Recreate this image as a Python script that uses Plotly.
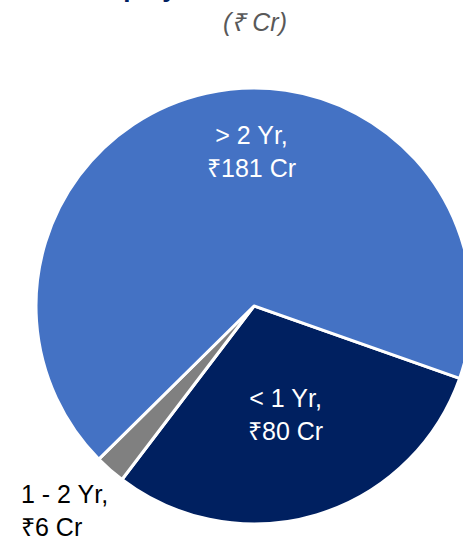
import plotly.graph_objects as go

labels = ["< 1 Yr", "1 - 2 Yr", "> 2 Yr"]
values = [80, 6, 181]
colors = ["#002060", "#808080", "#4472C4"]
title_text = "Deployment Profile"
subtitle_text = "(₹ Cr)"

W, H = 490, 541
cx, cy, r = 254, 306, 218

def px(x):
    return x / W

def py(y):
    return 1 - y / H

fig = go.Figure(go.Pie(
    labels=labels,
    values=values,
    sort=False,
    direction="clockwise",
    rotation=109.4,
    marker=dict(colors=colors, line=dict(color="white", width=3)),
    textinfo="none",
    hoverinfo="label+value",
    domain=dict(x=[px(cx - r), px(cx + r)], y=[py(cy + r), py(cy - r)]),
    showlegend=False,
))

label_pos = {"> 2 Yr": (251, 151, "center", "white"),
             "< 1 Yr": (285, 414, "center", "white"),
             "1 - 2 Yr": (19, 510, "left", "black")}
annotations = []
for lab, val in zip(labels, values):
    x, y, al, col = label_pos[lab]
    annotations.append(dict(
        x=px(x), y=py(y), xref="paper", yref="paper",
        xanchor=al, yanchor="middle", align=al, showarrow=False,
        text=f"{lab},<br>₹{val} Cr",
        font=dict(family="Liberation Sans, Arial", size=25, color=col),
    ))
annotations.append(dict(
    x=px(88), y=py(-12.5), xref="paper", yref="paper", xanchor="left", yanchor="middle",
    showarrow=False, text=f"<b>{title_text}</b>",
    font=dict(family="Liberation Sans, Arial", size=26, color="#002060"),
))
annotations.append(dict(
    x=px(255), y=py(22), xref="paper", yref="paper", xanchor="center", yanchor="middle",
    showarrow=False, text=f"<i>{subtitle_text}</i>",
    font=dict(family="Liberation Sans, Arial", size=25, color="#595959"),
))

fig.update_layout(
    width=W, height=H, autosize=False,
    margin=dict(l=0, r=0, t=0, b=0),
    paper_bgcolor="white", plot_bgcolor="white",
    annotations=annotations,
)
fig.write_html("out.html", config={"displayModeBar": False, "responsive": False})
